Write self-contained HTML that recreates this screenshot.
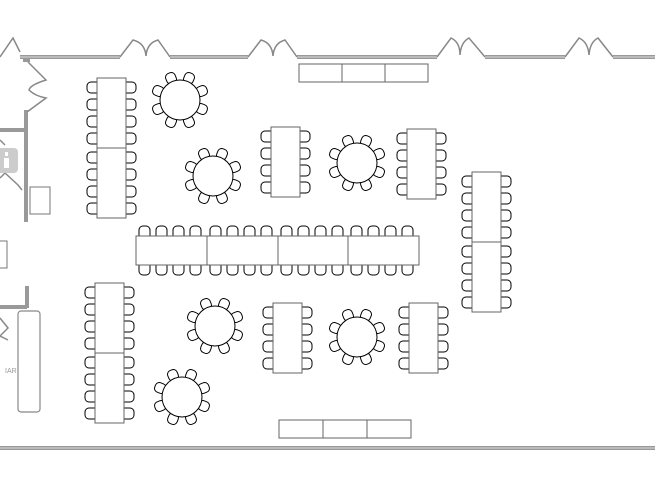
<!DOCTYPE html>
<html><head><meta charset="utf-8"><style>
html,body{margin:0;padding:0;background:#fff;width:655px;height:478px;overflow:hidden}
svg{display:block}
</style></head><body>
<svg width="655" height="478" viewBox="0 0 655 478" xmlns="http://www.w3.org/2000/svg">
<defs>
  <g id="rt">
    <g fill="#fff" stroke="#000" stroke-width="1">
      <rect x="18" y="-5" width="11" height="10" rx="4" transform="rotate(22.5)"/>
      <rect x="18" y="-5" width="11" height="10" rx="4" transform="rotate(67.5)"/>
      <rect x="18" y="-5" width="11" height="10" rx="4" transform="rotate(112.5)"/>
      <rect x="18" y="-5" width="11" height="10" rx="4" transform="rotate(157.5)"/>
      <rect x="18" y="-5" width="11" height="10" rx="4" transform="rotate(202.5)"/>
      <rect x="18" y="-5" width="11" height="10" rx="4" transform="rotate(247.5)"/>
      <rect x="18" y="-5" width="11" height="10" rx="4" transform="rotate(292.5)"/>
      <rect x="18" y="-5" width="11" height="10" rx="4" transform="rotate(337.5)"/>
    </g>
    <circle r="20" fill="#fff" stroke="#000" stroke-width="1"/>
  </g>
  <g id="vt">
    <g fill="#fff" stroke="#000" stroke-width="1">
      <rect x="-10" y="4" width="14" height="11" rx="4"/>
      <rect x="-10" y="21" width="14" height="11" rx="4"/>
      <rect x="-10" y="38" width="14" height="11" rx="4"/>
      <rect x="-10" y="55" width="14" height="11" rx="4"/>
      <rect x="25" y="4" width="14" height="11" rx="4"/>
      <rect x="25" y="21" width="14" height="11" rx="4"/>
      <rect x="25" y="38" width="14" height="11" rx="4"/>
      <rect x="25" y="55" width="14" height="11" rx="4"/>
    </g>
    <rect x="0" y="0" width="29" height="70" fill="#fff" stroke="#666" stroke-width="1"/>
  </g>
  <g id="ht">
    <g fill="#fff" stroke="#000" stroke-width="1">
      <rect x="3" y="-10" width="11" height="14" rx="4"/>
      <rect x="20" y="-10" width="11" height="14" rx="4"/>
      <rect x="37" y="-10" width="11" height="14" rx="4"/>
      <rect x="54" y="-10" width="11" height="14" rx="4"/>
      <rect x="3" y="25" width="11" height="14" rx="4"/>
      <rect x="20" y="25" width="11" height="14" rx="4"/>
      <rect x="37" y="25" width="11" height="14" rx="4"/>
      <rect x="54" y="25" width="11" height="14" rx="4"/>
    </g>
    <rect x="0" y="0" width="71" height="29" fill="#fff" stroke="#666" stroke-width="1"/>
  </g>
</defs>

<!-- walls -->
<g stroke="#999" stroke-width="4" fill="none">
  <line x1="20" y1="57" x2="120" y2="57"/>
  <line x1="170" y1="57" x2="248" y2="57"/>
  <line x1="297" y1="57" x2="437" y2="57"/>
  <line x1="485" y1="57" x2="565" y2="57"/>
  <line x1="613" y1="57" x2="655" y2="57"/>
  <line x1="0" y1="448" x2="655" y2="448"/>
  <line x1="26" y1="110" x2="26" y2="222"/>
  <line x1="0" y1="130" x2="26" y2="130"/>
  <line x1="27" y1="286" x2="27" y2="308"/>
  <line x1="0" y1="307" x2="27" y2="307"/>
  <line x1="23" y1="60" x2="30" y2="60"/>
</g>
<g stroke="#ddd" stroke-width="1" fill="none">
  <line x1="20" y1="57" x2="120" y2="57"/>
  <line x1="170" y1="57" x2="248" y2="57"/>
  <line x1="297" y1="57" x2="437" y2="57"/>
  <line x1="485" y1="57" x2="565" y2="57"/>
  <line x1="613" y1="57" x2="655" y2="57"/>
  <line x1="0" y1="448" x2="655" y2="448"/>
</g>
<!-- doors -->
<g stroke="#888" stroke-width="1.5" fill="none">
  <path d="M120 57 L133 40 Q145 43 146 56 Q147 43 158 40 L170 57"/>
  <path d="M248 57 L261 40 Q272 43 273 56 Q274 43 285 40 L297 57"/>
  <path d="M437 57 L451 38 Q460 42 460 55 Q461 42 469 38 L485 57"/>
  <path d="M565 57 L579 38 Q588 42 589 55 Q590 42 598 38 L613 57"/>
  <path d="M0 57 L13 38 L20 52"/>
  <path d="M28 62 L46 80 Q30 85 29 90 Q35 96 46 98 L27 112"/>
  <path d="M0 140 L5 145"/>
  <path d="M0 178 L5 173 L18 185 L22 190"/>
  <path d="M0 318 L8 328 L0 336 L8 340"/>
</g>
<!-- left fixtures -->
<rect x="-4" y="148" width="22" height="25" rx="4" fill="#ccc"/>
<rect x="5" y="152" width="3" height="4" fill="#fff"/>
<rect x="4" y="158" width="5" height="10" fill="#fff"/>
<rect x="30" y="187" width="20" height="27" fill="#fff" stroke="#777"/>
<rect x="-3" y="241" width="10" height="27" fill="#fff" stroke="#777"/>
<rect x="18" y="311" width="22" height="101" rx="3" fill="#fff" stroke="#888" stroke-width="1.2"/>
<text x="5" y="373" font-family="Liberation Sans, sans-serif" font-size="7" fill="#999">IAR</text>

<!-- buffet tables -->
<g fill="#fff" stroke="#666" stroke-width="1">
  <rect x="299" y="64" width="43" height="18"/>
  <rect x="342" y="64" width="43" height="18"/>
  <rect x="385" y="64" width="43" height="18"/>
  <rect x="279" y="420" width="44" height="18"/>
  <rect x="323" y="420" width="44" height="18"/>
  <rect x="367" y="420" width="44" height="18"/>
</g>

<!-- round tables -->
<use href="#rt" x="180" y="100"/>
<use href="#rt" x="213" y="176"/>
<use href="#rt" x="357" y="163"/>
<use href="#rt" x="215" y="326"/>
<use href="#rt" x="357" y="337"/>
<use href="#rt" x="182" y="397"/>

<!-- vertical tables -->
<use href="#vt" x="97" y="78"/>
<use href="#vt" x="97" y="148"/>
<use href="#vt" x="95" y="283"/>
<use href="#vt" x="95" y="353"/>
<use href="#vt" x="271" y="127"/>
<use href="#vt" x="407" y="129"/>
<use href="#vt" x="273" y="303"/>
<use href="#vt" x="409" y="303"/>
<use href="#vt" x="472" y="172"/>
<use href="#vt" x="472" y="242"/>

<!-- long table -->
<use href="#ht" x="136" y="236"/>
<use href="#ht" x="207" y="236"/>
<use href="#ht" x="278" y="236"/>
<use href="#ht" x="348" y="236"/>
</svg>
</body></html>
